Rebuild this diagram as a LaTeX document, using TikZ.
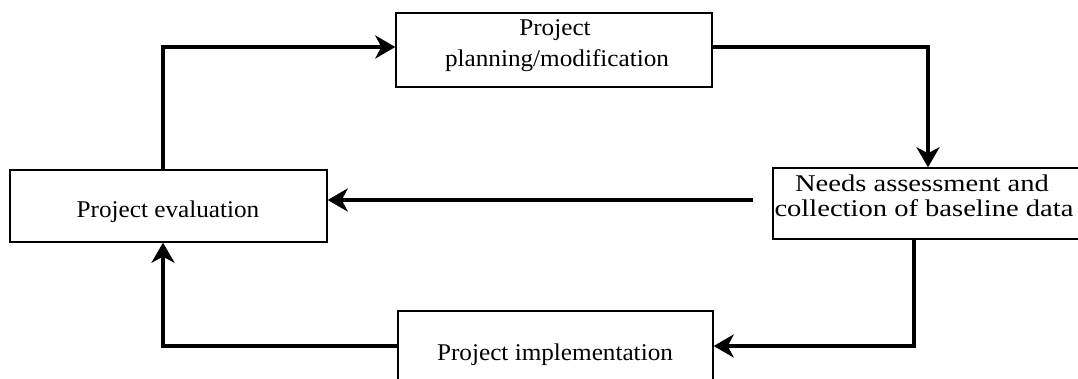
\documentclass[tikz,border=0pt]{standalone}
\usepackage{fontspec}
\setmainfont{Liberation Serif}
\newfontfamily\boxfont[FakeStretch=1.05]{Liberation Serif}
\newfontfamily\widefont[FakeStretch=1.19]{Liberation Serif}
\usetikzlibrary{arrows.meta,calc}
\begin{document}
\begin{tikzpicture}[x=1pt,y=-1pt,
  boxnode/.style={draw,line width=1.4pt,inner sep=0pt},
  txt/.style={inner sep=0pt,anchor=base,font=\boxfont\fontsize{24}{26}\selectfont},
  widetxt/.style={txt,font=\widefont\fontsize{24}{26}\selectfont},
  flow/.style={line width=4.6pt,-{Stealth[length=20pt,width=23pt,inset=6pt]}}]
\useasboundingbox (0,0) rectangle (1078,379);
\fill[white] (0,0) rectangle (1078,379);
% boxes
\node[boxnode,minimum width=316pt,minimum height=74pt] (plan) at (554,50) {};
\node[boxnode,minimum width=317pt,minimum height=72pt] (eval) at (168.5,206) {};
\node[boxnode,minimum width=315pt,minimum height=84pt] (impl) at (555.5,353) {};
\node[boxnode,minimum width=317pt,minimum height=71pt] (needs) at (931.5,203.5) {};
% texts
\node[txt] (plana) at (555,36) {Project};
\node[txt] (planb) at (557,67) {planning/modification};
\node[txt] (evalt) at (168,218) {Project evaluation};
\node[txt] (implt) at (555,360) {Project implementation};
\node[widetxt] (needsa) at (922,192) {Needs assessment and};
\node[widetxt] (needsb) at (924,217) {collection of baseline data};
% connector points
\coordinate (c1) at (163,47);
\coordinate (c2) at (928,47);
\coordinate (c3) at (914,346);
\coordinate (c4) at (163,346);
\coordinate (mstart) at (753,200);
% connectors
\draw[flow] (eval.north -| c1) -- (c1) -- (plan.west |- c1);
\draw[flow] (plan.east |- c2) -- (c2) -- (needs.north -| c2);
\draw[flow] (mstart) -- (eval.east |- mstart);
\draw[flow] (needs.south -| c3) -- (c3) -- (impl.east |- c3);
\draw[flow] (impl.west |- c4) -- (c4) -- (eval.south -| c4);
\end{tikzpicture}
\end{document}
